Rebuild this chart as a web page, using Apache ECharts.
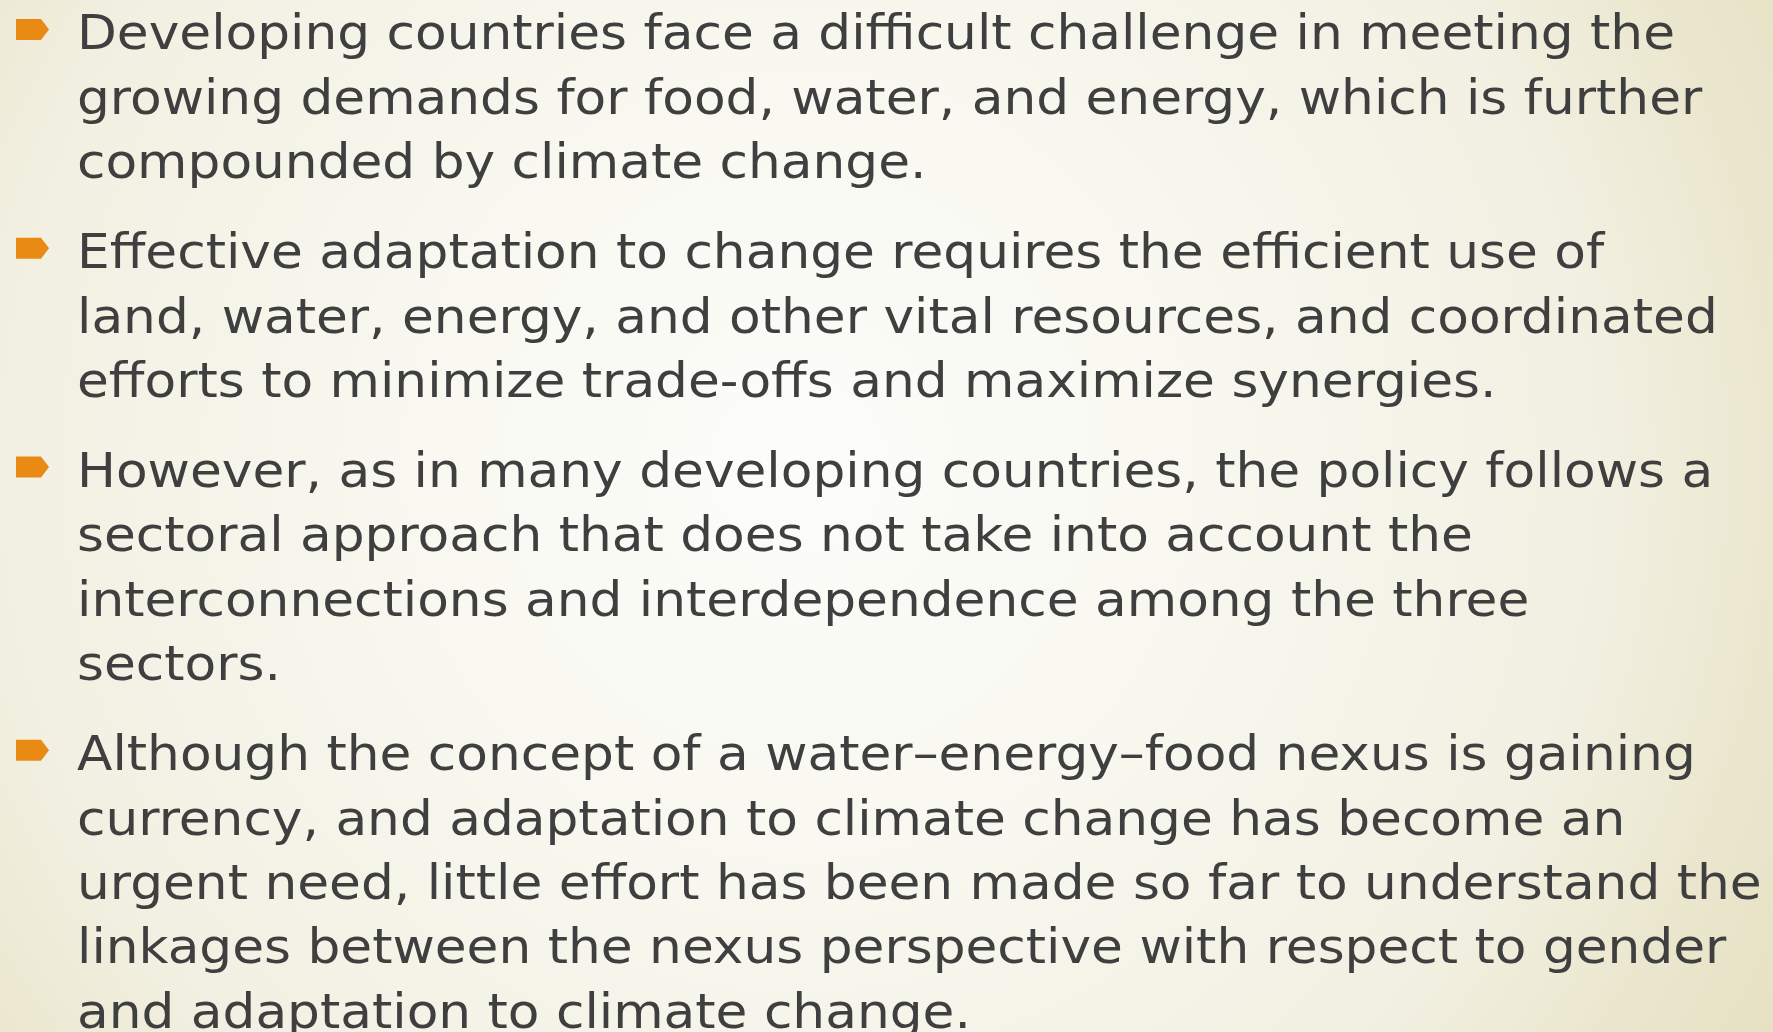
<!DOCTYPE html>
<html>
<head>
<meta charset="utf-8">
<script src="https://cdn.jsdelivr.net/npm/echarts@6/dist/echarts.min.js"></script>
<style>
html,body{margin:0;padding:0;width:1773px;height:1032px;overflow:hidden;}
#chart{width:1773px;height:1032px;}
</style>
</head>
<body>
<div id="chart"></div>
<script>
const paragraph1 = [
  "Developing countries face a difficult challenge in meeting the",
  "growing demands for food, water, and energy, which is further",
  "compounded by climate change."
];
const paragraph2 = [
  "Effective adaptation to change requires the efficient use of",
  "land, water, energy, and other vital resources, and coordinated",
  "efforts to minimize trade-offs and maximize synergies."
];
const paragraph3 = [
  "However, as in many developing countries, the policy follows a",
  "sectoral approach that does not take into account the",
  "interconnections and interdependence among the three",
  "sectors."
];
const paragraph4 = [
  "Although the concept of a water\u2013energy\u2013food nexus is gaining",
  "currency, and adaptation to climate change has become an",
  "urgent need, little effort has been made so far to understand the",
  "linkages between the nexus perspective with respect to gender",
  "and adaptation to climate change."
];
const paragraphs = [paragraph1, paragraph2, paragraph3, paragraph4];

const FONT_FAMILY = '"DejaVu Sans"';
const FONT_SIZE = 48;
const TEXT_COLOR = '#3f3f3f';
const BULLET_COLOR = '#e98a14';
const TEXT_X = 77;
const FIRST_BASELINE = 48;
const LINE_STEP = 64.4;
const PARA_GAP = 25.6;
const BASELINE_OFFSET = 13;
const REF_WIDTH = 1598; // target width of first line

const ctx = document.createElement('canvas').getContext('2d');
ctx.font = FONT_SIZE + 'px ' + FONT_FAMILY;
const scaleX = REF_WIDTH / ctx.measureText(paragraph1[0]).width;

const elements = [];
elements.push({
  type: 'rect', z: -10, silent: true,
  shape: {x: 0, y: 0, width: 1773, height: 1032},
  style: {fill: new echarts.graphic.RadialGradient(0.45, 0.45, 1.1, [
    {offset: 0, color: '#fcfcf9'},
    {offset: 0.3, color: '#f9f9f2'},
    {offset: 0.7, color: '#f2f0e2'},
    {offset: 0.86, color: '#ebe7cf'},
    {offset: 1, color: '#e6e1c2'}
  ])}
});

let baseline = FIRST_BASELINE;
paragraphs.forEach(function (lines) {
  const cy = baseline - 18.5;
  elements.push({
    type: 'polygon', silent: true,
    shape: {points: [[16, cy - 10.5], [41, cy - 10.5], [49, cy], [41, cy + 10.5], [16, cy + 10.5]]},
    style: {fill: BULLET_COLOR}
  });
  lines.forEach(function (line) {
    elements.push({
      type: 'text', silent: true,
      x: TEXT_X, y: baseline + BASELINE_OFFSET, scaleX: scaleX, originX: 0,
      style: {
        text: line, fill: TEXT_COLOR,
        font: FONT_SIZE + 'px ' + FONT_FAMILY,
        align: 'left', verticalAlign: 'bottom'
      }
    });
    baseline += LINE_STEP;
  });
  baseline += PARA_GAP;
});

const chart = echarts.init(document.getElementById('chart'), null, {renderer: 'canvas'});
chart.setOption({
  animation: false,
  graphic: {elements: elements}
});
</script>
</body>
</html>
